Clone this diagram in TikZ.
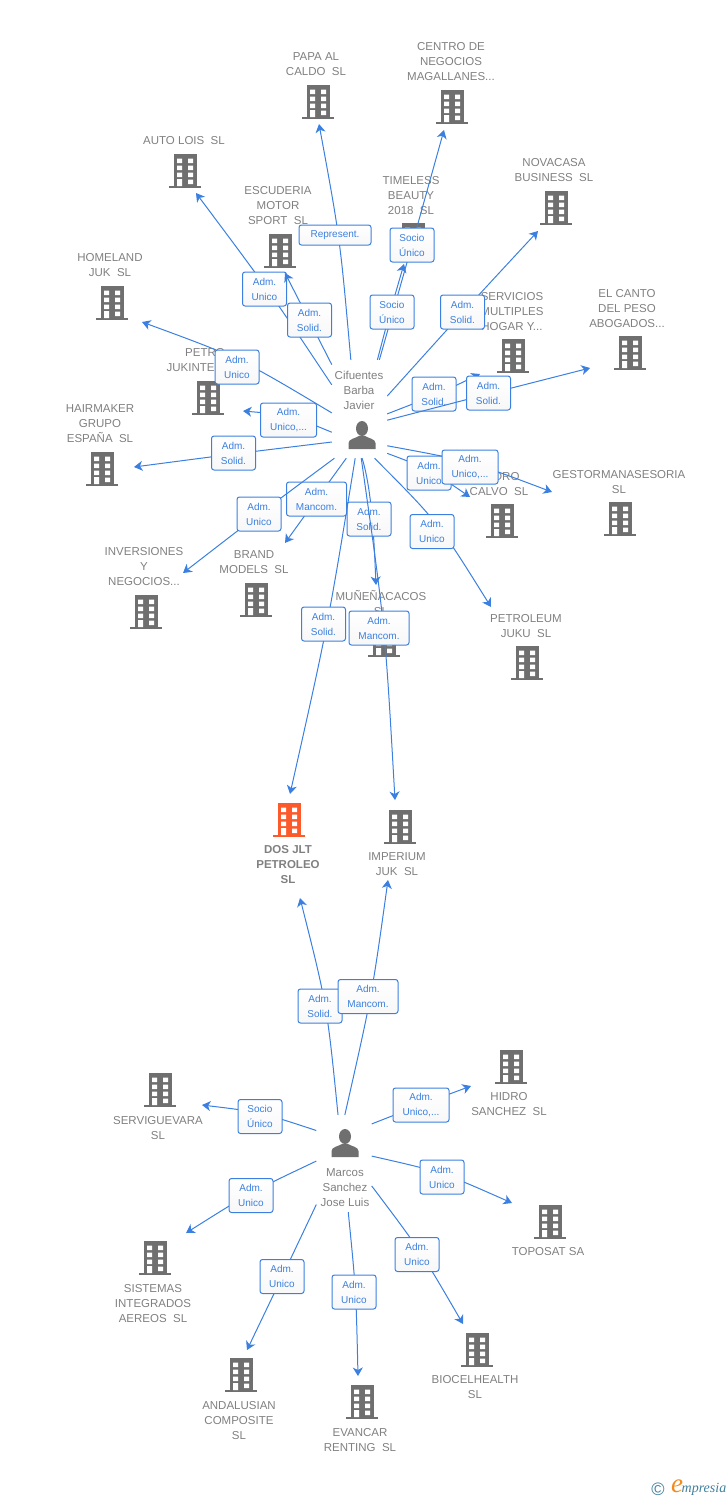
\documentclass[tikz,border=0pt]{standalone}
\usepackage{fontspec}
\usepackage{xcolor}
\usetikzlibrary{arrows.meta}
\setmainfont{Liberation Sans}
\newfontfamily\logofont{Liberation Serif}
\definecolor{linkblue}{HTML}{3B80E0}
\definecolor{labelgrey}{HTML}{808080}
\definecolor{icongrey}{HTML}{6F6F6F}
\definecolor{iconorange}{HTML}{FC5A2A}
\definecolor{logoteal}{HTML}{3F7F9F}
\definecolor{logoorange}{HTML}{F28A1E}
\tikzset{
  link/.style={draw=linkblue,line width=1pt,-{Stealth[length=8.5pt,width=10pt,inset=2.5pt]}},
  relbox/.style={draw=linkblue,line width=1pt,rounded corners=2.5pt,top color=white,bottom color=black!3,
    text=linkblue,font=\fontsize{10}{15}\selectfont,align=center,inner sep=0pt,minimum height=34pt,minimum width=44pt,
    execute at begin node={\vspace*{2pt}}},
  relwide/.style={relbox,minimum width=56pt},
  relmancom/.style={relbox,minimum width=60pt},
  company/.style={text=labelgrey,font=\fontsize{11.5}{15}\selectfont,align=center,inner sep=0pt,yshift=-1pt},
  personarea/.style={rectangle,inner sep=0pt,minimum width=55pt},
  bldg/.pic={
    \path[pic actions] (-11.5,-17) rectangle (11.5,15);
    \path[pic actions] (-16,14.5) rectangle (16,17);
    \fill[white] (-8,-12.5) rectangle (-3,-8) (3,-12.5) rectangle (8,-8);
    \fill[white] (-8,-5.5) rectangle (-3,-1) (3,-5.5) rectangle (8,-1);
    \fill[white] (-8,1.5) rectangle (-3,6) (3,1.5) rectangle (8,6);
    \fill[white] (-8,8) rectangle (-3,15) (3,8.5) rectangle (8,13);
  },
  silhouette/.pic={
    \fill[icongrey] (0,-7.5) ellipse (6 and 7.5);
    \fill[icongrey] (-13.5,13) -- (-13.5,7) .. controls (-13.5,3) and (-6,2) .. (-3,0) -- (3,0)
      .. controls (6,2) and (13.5,3) .. (13.5,7) -- (13.5,13) -- cycle;
  },
}
\begin{document}
\begin{tikzpicture}[x=1pt,y=-1pt]
  \useasboundingbox (0,0) rectangle (728,1500);
  % companies of the upper group
  \node[company] (papa) at (316,63.5) {PAPA AL\\CALDO\ \ SL};
  \pic[fill=icongrey] at (318,102) {bldg};
  \coordinate (papaTip) at (319,124);
  \node[company] (centro) at (451,61) {CENTRO DE\\NEGOCIOS\\MAGALLANES...};
  \pic[fill=icongrey] at (452,107) {bldg};
  \coordinate (centroTip) at (444,130);
  \node[company] (autolois) at (184,140) {AUTO LOIS\ \ SL};
  \pic[fill=icongrey] at (185,171) {bldg};
  \coordinate (autoloisTip) at (196,193);
  \node[company] (novacasa) at (554,169.5) {NOVACASA\\BUSINESS\ \ SL};
  \pic[fill=icongrey] at (556,208) {bldg};
  \coordinate (novacasaTip) at (538,231);
  \node[company] (timeless) at (411,195) {TIMELESS\\BEAUTY\\2018\ \ SL};
  \pic[fill=icongrey] at (413,240) {bldg};
  \coordinate (timelessTip) at (404,264);
  \node[company] (escuderia) at (278,205) {ESCUDERIA\\MOTOR\\SPORT\ \ SL};
  \pic[fill=icongrey] at (280,251) {bldg};
  \coordinate (escuderiaTip) at (285,273);
  \node[company] (homeland) at (110,264.5) {HOMELAND\\JUK\ \ SL};
  \pic[fill=icongrey] at (112,303) {bldg};
  \coordinate (homelandTip) at (142,322);
  \node[company] (canto) at (627,308) {EL CANTO\\DEL PESO\\ABOGADOS...};
  \pic[fill=icongrey] at (630,353) {bldg};
  \coordinate (cantoTip) at (590,368);
  \node[company] (servicios) at (512,311) {SERVICIOS\\MULTIPLES\\HOGAR Y...};
  \pic[fill=icongrey] at (513,356) {bldg};
  \coordinate (serviciosTip) at (480,374);
  \node[company] (jukinter) at (205,359.5) {PETRO\\JUKINTER\ \ SL};
  \pic[fill=icongrey] at (208,398) {bldg};
  \coordinate (jukinterTip) at (243,411);
  \node[company] (hairmaker) at (100,423) {HAIRMAKER\\GRUPO\\ESPAÑA\ \ SL};
  \pic[fill=icongrey] at (102,469) {bldg};
  \coordinate (hairmakerTip) at (134,467);
  \node[company] (inversiones) at (144,566) {INVERSIONES\\Y\\NEGOCIOS...};
  \pic[fill=icongrey] at (146,612) {bldg};
  \coordinate (inversionesTip) at (183,573);
  \node[company] (brand) at (254,561.5) {BRAND\\MODELS\ \ SL};
  \pic[fill=icongrey] at (256,600) {bldg};
  \coordinate (brandTip) at (285,543);
  \node[company] (munena) at (381,601.5) {MUÑEÑACACOS\\SL};
  \pic[fill=icongrey] at (384,640) {bldg};
  \coordinate (munenaTip) at (376,585);
  \node[company] (calvo) at (499,483.5) {PEDRO\\CALVO\ \ SL};
  \pic[fill=icongrey] at (502,521) {bldg};
  \coordinate (calvoTip) at (470,497);
  \node[company] (gestor) at (619,481.5) {GESTORMANASESORIA\\SL};
  \pic[fill=icongrey] at (620,519) {bldg};
  \coordinate (gestorTip) at (552,492);
  \node[company] (petroleum) at (526,625.5) {PETROLEUM\\JUKU\ \ SL};
  \pic[fill=icongrey] at (527,663) {bldg};
  \coordinate (petroleumTip) at (491,607);
  % the two companies in the middle
  \node[company,font=\fontsize{11.5}{15}\selectfont\bfseries] (dosjlt) at (288,864) {DOS JLT\\PETROLEO\\SL};
  \pic[fill=iconorange] at (289,820) {bldg};
  \coordinate (dosjltTop) at (290,794);
  \coordinate (dosjltBottom) at (300,898);
  \node[company] (imperium) at (397,863.5) {IMPERIUM\\JUK\ \ SL};
  \pic[fill=icongrey] at (400,827) {bldg};
  \coordinate (imperiumTop) at (395,800);
  \coordinate (imperiumBottom) at (388,880);
  % companies of the lower group
  \node[company] (hidro) at (509,1103.5) {HIDRO\\SANCHEZ\ \ SL};
  \pic[fill=icongrey] at (511,1067) {bldg};
  \coordinate (hidroTip) at (471,1086);
  \node[company] (serviguevara) at (158,1127.5) {SERVIGUEVARA\\SL};
  \pic[fill=icongrey] at (160,1090) {bldg};
  \coordinate (serviguevaraTip) at (202,1105);
  \node[company] (toposat) at (548,1251) {TOPOSAT SA};
  \pic[fill=icongrey] at (550,1222) {bldg};
  \coordinate (toposatTip) at (512,1203);
  \node[company] (sistemas) at (153,1303) {SISTEMAS\\INTEGRADOS\\AEREOS\ \ SL};
  \pic[fill=icongrey] at (155,1258) {bldg};
  \coordinate (sistemasTip) at (186,1233);
  \node[company] (andalusian) at (239,1420) {ANDALUSIAN\\COMPOSITE\\SL};
  \pic[fill=icongrey] at (241,1375) {bldg};
  \coordinate (andalusianTip) at (247,1350);
  \node[company] (evancar) at (360,1439.5) {EVANCAR\\RENTING\ \ SL};
  \pic[fill=icongrey] at (362,1402) {bldg};
  \coordinate (evancarTip) at (358,1376);
  \node[company] (biocel) at (475,1386.5) {BIOCELHEALTH\\SL};
  \pic[fill=icongrey] at (477,1350) {bldg};
  \coordinate (biocelTip) at (463,1324);
  % the two persons
  \node[personarea,minimum height=98pt] (cifuentes) at (359.5,409) {};
  \node[company] (cifuentesName) at (359,389) {Cifuentes\\Barba\\Javier};
  \pic at (362,436) {silhouette};
  \node[personarea,minimum height=97pt] (marcos) at (344,1163.5) {};
  \node[company] (marcosName) at (345,1187) {Marcos\\Sanchez\\Jose Luis};
  \pic at (345,1144) {silhouette};
  % links of the upper person
  \draw[link] (cifuentes.100) .. controls (340,238) .. (papaTip);
  \node[relbox,minimum width=72pt,minimum height=20pt] (r1) at (335,235) {Represent.};
  \draw[link] (cifuentes.139) .. controls (270,292) .. (autoloisTip);
  \node[relbox] (r2) at (264.5,289) {Adm.\\Unico};
  \draw[link] (cifuentes.122) .. controls (308,318) .. (escuderiaTip);
  \node[relbox] (r3) at (309.5,320) {Adm.\\Solid.};
  \draw[link] (cifuentes.68) .. controls (412,245) .. (centroTip);
  \node[relbox] (r4) at (412,245) {Socio\\Único};
  \draw[link] (cifuentes.70) .. controls (390,312) .. (timelessTip);
  \node[relbox] (r5) at (392,312) {Socio\\Único};
  \draw[link] (cifuentes.25) .. controls (462,313) .. (novacasaTip);
  \node[relbox] (r6) at (462.5,312) {Adm.\\Solid.};
  \draw[link] (cifuentes.-10) .. controls (436,395) .. (serviciosTip);
  \node[relbox] (r7) at (434,394) {Adm.\\Solid.};
  \draw[link] (cifuentes.-22) .. controls (488,394) .. (cantoTip);
  \node[relbox] (r8) at (488.5,393) {Adm.\\Solid.};
  \draw[link] (cifuentes.-58) .. controls (429,469) .. (calvoTip);
  \node[relbox] (r9) at (429,473) {Adm.\\Unico};
  \draw[link] (cifuentes.-53) .. controls (470,461) .. (gestorTip);
  \node[relwide] (r10) at (470,467) {Adm.\\Unico,...};
  \draw[link] (cifuentes.-73) .. controls (438,522) .. (petroleumTip);
  \node[relbox] (r11) at (432,531.5) {Adm.\\Unico};
  \draw[link] (cifuentes.-87) .. controls (372,490) and (374,540) .. (munenaTip);
  \node[relbox] (r12) at (369,519) {Adm.\\Solid.};
  \draw[link] (cifuentes.-88) .. controls (385,625) .. (imperiumTop);
  \node[relmancom] (r13) at (379,628) {Adm.\\Mancom.};
  \draw[link] (cifuentes.-95) .. controls (328,625) .. (dosjltTop);
  \node[relbox] (r14) at (323.5,624) {Adm.\\Solid.};
  \draw[link] (cifuentes.-105) .. controls (316,500) .. (brandTip);
  \node[relmancom] (r15) at (316.5,499) {Adm.\\Mancom.};
  \draw[link] (cifuentes.-117) .. controls (258,515) .. (inversionesTip);
  \node[relbox] (r16) at (259,514) {Adm.\\Unico};
  \draw[link] (cifuentes.-130) .. controls (233,454) .. (hairmakerTip);
  \node[relbox] (r17) at (233.5,453) {Adm.\\Solid.};
  \draw[link] (cifuentes.-140) .. controls (290,415) .. (jukinterTip);
  \node[relwide] (r18) at (288.5,420) {Adm.\\Unico,...};
  \draw[link] (cifuentes.-172) .. controls (240,358) .. (homelandTip);
  \node[relbox] (r19) at (237,367) {Adm.\\Unico};
  % links of the lower person
  \draw[link] (marcos.97) .. controls (327,1005) .. (dosjltBottom);
  \node[relbox] (r20) at (320,1006) {Adm.\\Solid.};
  \draw[link] (marcos.89) .. controls (372,995) .. (imperiumBottom);
  \node[relmancom] (r21) at (368,996.5) {Adm.\\Mancom.};
  \draw[link] (marcos.55) .. controls (420,1105) .. (hidroTip);
  \node[relwide] (r22) at (421,1105) {Adm.\\Unico,...};
  \draw[link] (marcos.15) .. controls (442,1172) .. (toposatTip);
  \node[relbox] (r23) at (442,1177) {Adm.\\Unico};
  \draw[link] (marcos.-39) .. controls (420,1250) .. (biocelTip);
  \node[relbox] (r24) at (417,1254.5) {Adm.\\Unico};
  \draw[link] (marcos.-85) .. controls (356,1290) .. (evancarTip);
  \node[relbox] (r25) at (354,1292) {Adm.\\Unico};
  \draw[link] (marcos.-124) .. controls (282,1277) .. (andalusianTip);
  \node[relbox] (r26) at (282,1276.5) {Adm.\\Unico};
  \draw[link] (marcos.175) .. controls (251,1192) .. (sistemasTip);
  \node[relbox] (r27) at (251,1195.5) {Adm.\\Unico};
  \draw[link] (marcos.130) .. controls (260,1112) .. (serviguevaraTip);
  \node[relbox] (r28) at (260,1116.5) {Socio\\Único};
  % logo
  \node[text=logoteal,font=\fontsize{18}{18}\selectfont,inner sep=0pt] (logoCopy) at (658,1489) {©};
  \node[text=logoorange,font=\logofont\itshape\fontsize{27}{27}\selectfont,inner sep=0pt] (logoE) at (677,1486) {e};
  \node[text=logoteal,font=\logofont\itshape\fontsize{14}{14}\selectfont,inner sep=0pt] (logoName) at (704,1489) {mpresia};
\end{tikzpicture}
\end{document}
